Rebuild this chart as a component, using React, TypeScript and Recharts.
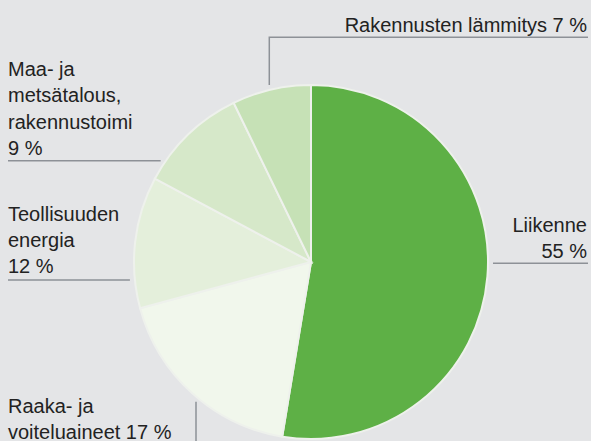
import React from 'react';
import { PieChart, Pie, Cell } from 'recharts';

const categories = [
  'Liikenne',
  'Raaka- ja voiteluaineet',
  'Teollisuuden energia',
  'Maa- ja metsätalous, rakennustoimi',
  'Rakennusten lämmitys',
];
const shares = [52.6, 18.2, 12.0, 10.0, 7.2];
const labelTexts = [
  ['Liikenne', '55 %'],
  ['Raaka- ja', 'voiteluaineet 17 %'],
  ['Teollisuuden', 'energia', '12 %'],
  ['Maa- ja', 'metsätalous,', 'rakennustoimi', '9 %'],
  ['Rakennusten lämmitys 7 %'],
];

const colors = ['#5eb046', '#f1f7ec', '#e4efdb', '#d6e8c9', '#c6e1b6'];

const W = 591;
const H = 441;
const BG = '#e4e5e7';
const TEXT = '#222222';
const LEADER = '#8d9197';
const FONT = '"Liberation Sans", Arial, sans-serif';

// Label layout (positions of annotation text and leader lines)
type Leader =
  | { kind: 'h'; y: number; outer: number }
  | { kind: 'v'; x: number; outer: number; toX?: number };
type Layout = {
  anchor: 'start' | 'end';
  x: number;
  baselines: number[];
  leader: Leader;
};
const layouts: Layout[] = [
  { anchor: 'end', x: 587, baselines: [231.7, 258], leader: { kind: 'h', y: 263.3, outer: 588 } },
  { anchor: 'start', x: 8, baselines: [412.7, 438.5], leader: { kind: 'v', x: 196, outer: 441 } },
  { anchor: 'start', x: 8, baselines: [220.7, 247, 273.3], leader: { kind: 'h', y: 280, outer: 8 } },
  { anchor: 'start', x: 8, baselines: [76, 102.2, 128.5, 155], leader: { kind: 'h', y: 160.7, outer: 8 } },
  { anchor: 'end', x: 587, baselines: [32], leader: { kind: 'v', x: 269.3, outer: 37.3, toX: 588 } },
];

const GAP = 4;

const renderLabel = (props: any) => {
  const { cx, cy, outerRadius, index } = props;
  const lay = layouts[index];
  const lines = labelTexts[index];
  const r = outerRadius + 1;
  let pts: [number, number][] = [];
  const ld = lay.leader;
  if (ld.kind === 'h') {
    const y = ld.y;
    const dx = Math.sqrt(Math.max(0, r * r - (y - cy) * (y - cy)));
    const edge = ld.outer > cx ? cx + dx + GAP : cx - dx - GAP;
    pts = [
      [ld.outer, y],
      [edge, y],
    ];
  } else {
    const x = ld.x;
    const dy = Math.sqrt(Math.max(0, r * r - (x - cx) * (x - cx)));
    const edge = ld.outer > cy ? cy + dy + GAP : cy - dy - GAP;
    pts = [
      [x, edge],
      [x, ld.outer],
    ];
    if (ld.toX !== undefined) pts.push([ld.toX, ld.outer]);
  }
  return (
    <g key={`lab-${index}`}>
      <polyline
        points={pts.map((p) => p.join(',')).join(' ')}
        fill="none"
        stroke={LEADER}
        strokeWidth={1.5}
      />
      <text textAnchor={lay.anchor} fontFamily={FONT} fontSize={20} fill={TEXT}>
        {lines.map((t, i) => (
          <tspan key={i} x={lay.x} y={lay.baselines[i]}>
            {t}
          </tspan>
        ))}
      </text>
    </g>
  );
};

const data = categories.map((name, i) => ({ name, value: shares[i] }));

export default function App() {
  return (
    <div
      style={{
        position: 'absolute',
        left: 0,
        top: 0,
        width: W,
        height: H,
        background: BG,
        overflow: 'hidden',
      }}
    >
      <PieChart width={W} height={H} margin={{ top: 0, right: 0, bottom: 0, left: 0 }}>
        <Pie
          data={data}
          dataKey="value"
          nameKey="name"
          cx={311}
          cy={262}
          outerRadius={177}
          startAngle={90}
          endAngle={-270}
          stroke="#eef1ec"
          strokeWidth={2}
          label={renderLabel}
          labelLine={false}
          isAnimationActive={false}
        >
          {data.map((d, i) => (
            <Cell key={d.name} fill={colors[i]} />
          ))}
        </Pie>
      </PieChart>
    </div>
  );
}
